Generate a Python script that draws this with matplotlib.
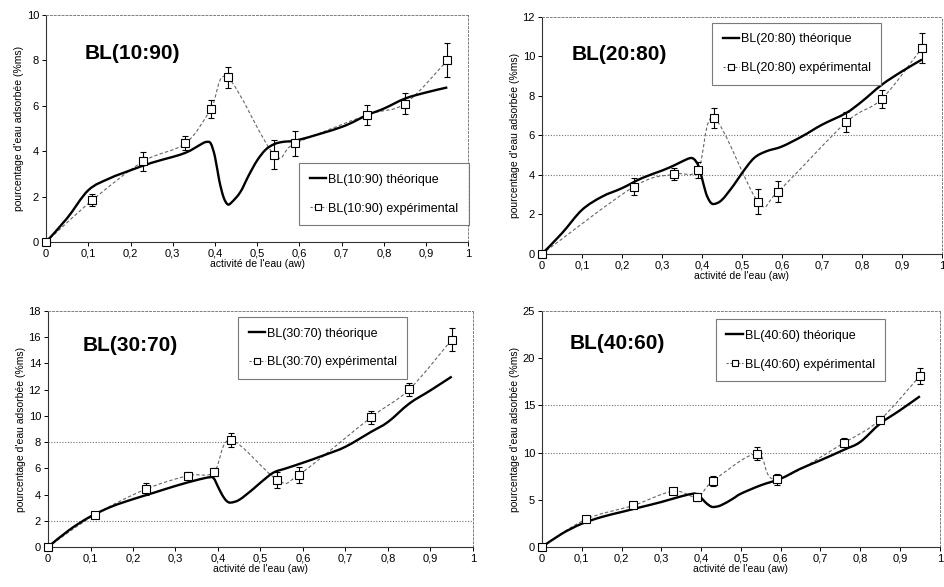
import numpy as np
import matplotlib
matplotlib.use('Agg')
import matplotlib.pyplot as plt
from matplotlib.path import Path
from matplotlib.patches import PathPatch
from matplotlib.lines import Line2D
from matplotlib.ticker import FuncFormatter, MultipleLocator

plt.rcParams['font.family'] = ['Liberation Sans', 'DejaVu Sans']

# ---------------- data
names = ['BL(10:90)', 'BL(20:80)', 'BL(30:70)', 'BL(40:60)']
ymax = [10, 12, 18, 25]
ystep = [2, 2, 2, 5]
hgrid = [[], [4, 6], [2, 8], [10, 15]]

# experimental points
exp_x1 = [0, 0.11, 0.23, 0.33, 0.39, 0.43, 0.54, 0.59, 0.76, 0.85, 0.95]
exp_y1 = [0, 1.85, 3.55, 4.35, 5.85, 7.25, 3.85, 4.35, 5.6, 6.1, 8.0]
exp_e1 = [0, 0.25, 0.4, 0.3, 0.4, 0.45, 0.65, 0.55, 0.45, 0.45, 0.75]

exp_x2 = [0, 0.23, 0.33, 0.39, 0.43, 0.54, 0.59, 0.76, 0.85, 0.95]
exp_y2 = [0, 3.41, 4.04, 4.26, 6.88, 2.65, 3.16, 6.66, 7.86, 10.43]
exp_e2 = [0, 0.42, 0.3, 0.4, 0.5, 0.65, 0.55, 0.5, 0.45, 0.75]

exp_x3 = [0, 0.11, 0.23, 0.33, 0.39, 0.43, 0.54, 0.59, 0.76, 0.85, 0.95]
exp_y3 = [0, 2.46, 4.41, 5.45, 5.7, 8.16, 5.12, 5.5, 9.89, 12.02, 15.82]
exp_e3 = [0, 0.2, 0.45, 0.25, 0.3, 0.5, 0.6, 0.6, 0.5, 0.5, 0.85]

exp_x4 = [0, 0.11, 0.23, 0.33, 0.39, 0.43, 0.54, 0.59, 0.76, 0.85, 0.95]
exp_y4 = [0, 2.93, 4.41, 5.93, 5.3, 7.0, 9.89, 7.17, 11.06, 13.5, 18.13]
exp_e4 = [0, 0.2, 0.3, 0.2, 0.4, 0.5, 0.7, 0.55, 0.5, 0.4, 0.85]

# theoretical curves
th_x1 = [0, 0.05, 0.1, 0.15, 0.2, 0.25, 0.3, 0.33, 0.35, 0.37, 0.38, 0.39, 0.4, 0.41, 0.42,
         0.43, 0.44, 0.46, 0.48, 0.5, 0.52, 0.54, 0.56, 0.6, 0.7, 0.76, 0.8, 0.85, 0.9, 0.95]
th_y1 = [0, 1.05, 2.28, 2.8, 3.16, 3.49, 3.75, 3.93, 4.12, 4.34, 4.41, 4.34, 3.75, 2.72, 1.99,
         1.66, 1.76, 2.2, 2.94, 3.6, 4.07, 4.31, 4.41, 4.51, 5.07, 5.59, 5.88, 6.32, 6.59, 6.81]

th_x2 = [0, 0.05, 0.1, 0.15, 0.2, 0.25, 0.3, 0.33, 0.35, 0.37, 0.38, 0.39, 0.4, 0.41, 0.42,
         0.43, 0.45, 0.48, 0.5, 0.53, 0.56, 0.6, 0.65, 0.7, 0.76, 0.8, 0.85, 0.9, 0.95]
th_y2 = [0, 1.05, 2.23, 2.9, 3.33, 3.84, 4.22, 4.48, 4.68, 4.85, 4.8, 4.51, 3.84, 3.08, 2.65,
         2.53, 2.74, 3.5, 4.09, 4.85, 5.19, 5.44, 5.95, 6.54, 7.13, 7.72, 8.57, 9.24, 9.84]

th_x3 = [0, 0.05, 0.1, 0.15, 0.2, 0.25, 0.3, 0.35, 0.38, 0.39, 0.4, 0.41, 0.42, 0.43, 0.45,
         0.48, 0.5, 0.53, 0.56, 0.6, 0.65, 0.7, 0.76, 0.8, 0.85, 0.9, 0.95]
th_y3 = [0, 1.3, 2.33, 3.09, 3.65, 4.15, 4.66, 5.11, 5.32, 5.24, 4.6, 3.97, 3.52, 3.39, 3.6,
         4.35, 4.91, 5.67, 6.0, 6.43, 7.01, 7.65, 8.78, 9.54, 10.94, 11.95, 13.0]

th_x4 = [0, 0.05, 0.1, 0.15, 0.2, 0.25, 0.3, 0.35, 0.38, 0.39, 0.4, 0.41, 0.42, 0.43, 0.45,
         0.48, 0.5, 0.55, 0.6, 0.65, 0.7, 0.76, 0.8, 0.85, 0.9, 0.95]
th_y4 = [0, 1.41, 2.47, 3.18, 3.71, 4.24, 4.77, 5.37, 5.65, 5.58, 5.23, 4.77, 4.42, 4.24, 4.42,
         5.12, 5.65, 6.54, 7.24, 8.3, 9.19, 10.32, 11.13, 13.07, 14.49, 15.97]

exp_x = [exp_x1, exp_x2, exp_x3, exp_x4]
exp_y = [exp_y1, exp_y2, exp_y3, exp_y4]
exp_e = [exp_e1, exp_e2, exp_e3, exp_e4]
th_x = [th_x1, th_x2, th_x3, th_x4]
th_y = [th_y1, th_y2, th_y3, th_y4]

# ---------------- layout (figure fractions)
rects = [[0.0487, 0.5877, 0.447, 0.3867],
         [0.5735, 0.5673, 0.4233, 0.404],
         [0.0508, 0.0681, 0.4497, 0.402],
         [0.5735, 0.0681, 0.421, 0.402]]
title_pos = [(0.092, 0.83), (0.075, 0.84), (0.082, 0.856), (0.07, 0.864)]
leg_pos = [(0.6, 0.348), (0.425, 0.975), (0.447, 0.975), (0.437, 0.966)]


def smooth_path(x, y):
    # excel-like smoothed line: bezier segments through the points
    pts = np.column_stack([x, y]).astype(float)
    n = len(pts)
    verts = [pts[0]]
    codes = [Path.MOVETO]
    for i in range(n - 1):
        p0 = pts[max(i - 1, 0)]
        p1 = pts[i]
        p2 = pts[i + 1]
        p3 = pts[min(i + 2, n - 1)]
        verts += [p1 + (p2 - p0) / 6, p2 - (p3 - p1) / 6, p2]
        codes += [Path.CURVE4] * 3
    return Path(verts, codes)


def comma(v, pos):
    if abs(v - round(v)) < 1e-9:
        return '%d' % round(v)
    return ('%.1f' % v).replace('.', ',')


fig = plt.figure(figsize=(9.45, 5.87), dpi=100)

for i in range(4):
    ax = fig.add_axes(rects[i])
    ax.set_xlim(0, 1)
    ax.set_ylim(0, ymax[i])

    for g in hgrid[i]:
        ax.axhline(g, color='0.45', lw=0.8, ls=(0, (1, 1.5)), zorder=0)

    # theoretical
    ax.add_patch(PathPatch(smooth_path(th_x[i], th_y[i]), fill=False,
                           edgecolor='black', lw=1.7, zorder=3))
    # experimental
    ax.add_patch(PathPatch(smooth_path(exp_x[i], exp_y[i]), fill=False,
                           edgecolor='0.4', lw=0.8, ls=(0, (3, 2)), zorder=2))
    ax.errorbar(exp_x[i], exp_y[i], yerr=exp_e[i], fmt='none', ecolor='black',
                elinewidth=0.8, capsize=2, capthick=0.8, zorder=4)
    ax.plot(exp_x[i], exp_y[i], 's', mfc='white', mec='black', ms=5.5, mew=0.8,
            zorder=5, clip_on=False)

    ax.text(title_pos[i][0], title_pos[i][1], names[i], transform=ax.transAxes,
            fontsize=15, fontweight='bold', va='center', ha='left')

    h_th = Line2D([], [], color='black', lw=1.7)
    h_ex = Line2D([], [], color='0.4', lw=0.8, ls=(0, (2, 1.5)), marker='s',
                  mfc='white', mec='black', ms=4, mew=0.8)
    leg = ax.legend([h_th, h_ex], [names[i] + ' théorique', names[i] + ' expérimental'],
                    loc='upper left', bbox_to_anchor=leg_pos[i], fontsize=9,
                    frameon=True, fancybox=False, edgecolor='0.35',
                    handlelength=1.3, handletextpad=0.15, labelspacing=1.35,
                    borderpad=0.85, borderaxespad=0)
    leg.get_frame().set_linewidth(0.8)

    ax.xaxis.set_major_locator(MultipleLocator(0.1))
    ax.yaxis.set_major_locator(MultipleLocator(ystep[i]))
    ax.xaxis.set_major_formatter(FuncFormatter(comma))
    ax.yaxis.set_major_formatter(FuncFormatter(comma))
    ax.tick_params(labelsize=8, length=3, width=0.7, pad=2)
    ax.set_xlabel("activité de l'eau (aw)", fontsize=7.5, labelpad=0)
    ax.set_ylabel("pourcentage d'eau adsorbée (%ms)", fontsize=7.5, labelpad=2)

    for s in ['top', 'right']:
        ax.spines[s].set_color('0.5')
        ax.spines[s].set_linestyle((0, (2, 2)))
        ax.spines[s].set_linewidth(0.7)
    for s in ['left', 'bottom']:
        ax.spines[s].set_color('0.2')
        ax.spines[s].set_linewidth(0.8)

fig.savefig('out.png', dpi=100)
